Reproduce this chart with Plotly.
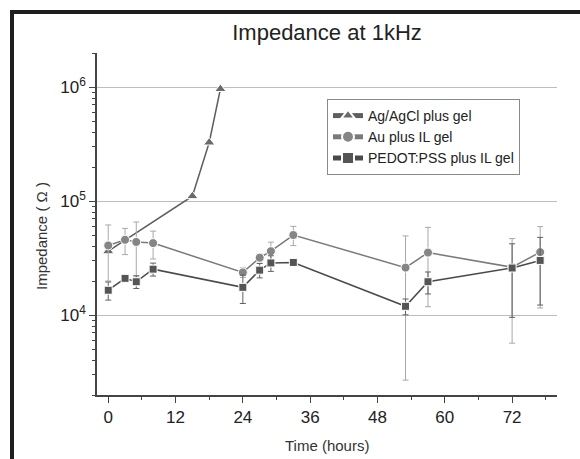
import plotly.graph_objects as go

# ---- data ----
time_ag = [0, 15, 18, 20]
imp_ag = [36500, 111000, 328000, 967000]

time_au = [0, 3, 5, 8, 24, 27, 29, 33, 53, 57, 72, 77]
imp_au = [41000, 46000, 44000, 43000, 23800, 32000, 36500, 50600, 26200, 35500, 26400, 35800]
err_au = [21000, 11900, 21800, 11800, 2300, 2500, 7300, 9700, 23500, 23600, 20700, 24200]

time_pedot = [0, 3, 5, 8, 24, 27, 29, 33, 53, 57, 72, 77]
imp_pedot = [16600, 21100, 19700, 25400, 17600, 24900, 28800, 29100, 12000, 19700, 26000, 30300]
err_pedot = [3000, 1200, 2500, 3300, 4900, 3600, 4500, 1500, 1900, 4300, 16400, 18000]

x_ticks = [0, 12, 24, 36, 48, 60, 72]
y_ticks = [1e4, 1e5, 1e6]
y_ticktext = ["10<sup>4</sup>", "10<sup>5</sup>", "10<sup>6</sup>"]

names = ["Ag/AgCl plus gel", "Au plus IL gel", "PEDOT:PSS plus IL gel"]

FONT = "Liberation Sans, Arial, sans-serif"

fig = go.Figure()

fig.add_trace(go.Scatter(
    x=time_ag, y=imp_ag, name=names[0], mode="lines+markers",
    line=dict(color="#5e5e5e", width=1.5),
    marker=dict(symbol="triangle-up", size=10, color="#6a6a6a",
                line=dict(color="white", width=1)),
))
fig.add_trace(go.Scatter(
    x=time_au, y=imp_au, name=names[1], mode="lines+markers",
    line=dict(color="#7a7a7a", width=1.5),
    marker=dict(symbol="circle", size=9, color="#858585",
                line=dict(color="white", width=1)),
    error_y=dict(type="data", array=err_au, visible=True,
                 color="#a8a8a8", thickness=1, width=3),
))
fig.add_trace(go.Scatter(
    x=time_pedot, y=imp_pedot, name=names[2], mode="lines+markers",
    line=dict(color="#4a4a4a", width=1.5),
    marker=dict(symbol="square", size=8, color="#555555",
                line=dict(color="white", width=1)),
    error_y=dict(type="data", array=err_pedot, visible=True,
                 color="#606060", thickness=1, width=3),
))

# minor tick values for log axis
minor_y = []
for dec in [1e3, 1e4, 1e5, 1e6]:
    for k in range(2, 10):
        v = k * dec
        if 2000 <= v <= 2.0e6:
            minor_y.append(v)

L, R, T, B = 97, 23, 53, 64
W, H = 580, 459
pw, ph = W - L - R, H - T - B

def px(x):
    return (x - L) / pw

def py(y):
    return (H - B - y) / ph

fig.update_layout(
    width=W, height=H,
    margin=dict(l=L, r=R, t=T, b=B),
    paper_bgcolor="white", plot_bgcolor="white",
    font=dict(family=FONT, color="#222222"),
    title=dict(text="Impedance at 1kHz", x=0.5, xref="paper",
               y=1 - 32 / H, yref="container", yanchor="middle",
               font=dict(size=22, color="#222222")),
    showlegend=True,
    legend=dict(x=px(327), y=py(99), xanchor="left", yanchor="top",
                bgcolor="white", bordercolor="#8a8a8a", borderwidth=1,
                font=dict(size=14, color="#222222"),
                tracegroupgap=0, itemsizing="constant"),
    xaxis=dict(range=[-2, 80], tickvals=x_ticks, ticks="outside", ticklen=6,
               tickwidth=1.2, tickcolor="#444444",
               showline=True, linecolor="#444444", linewidth=1.5,
               showgrid=False, zeroline=False,
               tickfont=dict(size=17, color="#222222"),
               minor=dict(dtick=6, tick0=0, ticks="outside", ticklen=3,
                          tickcolor="#444444", showgrid=False)),
    yaxis=dict(type="log", range=[3.30103, 6.30103],
               tickvals=y_ticks, ticktext=y_ticktext,
               ticks="outside", ticklen=6, tickwidth=1.2, tickcolor="#444444",
               showline=True, linecolor="#444444", linewidth=1.5,
               showgrid=True, gridcolor="#bdbdbd", gridwidth=1,
               zeroline=False,
               tickfont=dict(size=17, color="#222222"),
               minor=dict(tickvals=minor_y, ticks="outside", ticklen=3,
                          tickcolor="#444444", showgrid=False)),
    annotations=[
        dict(text="Impedance ( Ω )", textangle=-90, x=px(41), y=py(236),
             xref="paper", yref="paper", showarrow=False,
             xanchor="center", yanchor="middle",
             font=dict(size=15, color="#333333")),
        dict(text="Time (hours)", x=0.5, y=py(445),
             xref="paper", yref="paper", showarrow=False,
             xanchor="center", yanchor="middle",
             font=dict(size=15, color="#333333")),
    ],
    shapes=[
        dict(type="rect", xref="paper", yref="paper",
             x0=px(10), x1=px(14), y0=py(10), y1=py(459),
             fillcolor="#1e1e1e", line=dict(width=0), layer="above"),
        dict(type="rect", xref="paper", yref="paper",
             x0=px(10), x1=px(580), y0=py(10), y1=py(14),
             fillcolor="#1e1e1e", line=dict(width=0), layer="above"),
    ],
)

fig.write_html("out.html", config={"displayModeBar": False})

# remove the browser's default page margin so the figure sits at (0, 0)
with open("out.html", "r", encoding="utf-8") as f:
    html = f.read()
html = html.replace("<head>", "<head><style>html,body{margin:0;padding:0;overflow:hidden;}</style>", 1)
with open("out.html", "w", encoding="utf-8") as f:
    f.write(html)
